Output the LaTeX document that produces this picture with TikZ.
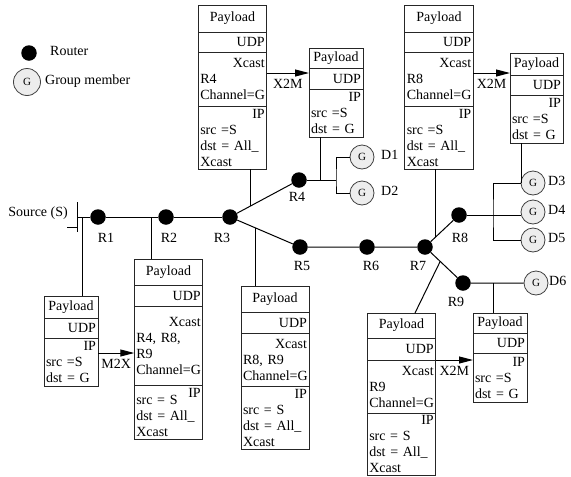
\documentclass[tikz,border=0pt]{standalone}
\usepackage{fontspec}
\setmainfont{Liberation Serif}
\usetikzlibrary{
	arrows.meta,
	positioning,
	calc
}

\begin{document}
\begin{tikzpicture}[
  x=1pt, y=-1pt,
  enlace/.style={draw=black, line width=1pt},
  flecha/.style={-{Triangle[length=14pt, width=7pt]}, draw=black, line width=1pt},
  enrutador/.style={circle, fill=black, inner sep=0pt, minimum size=15.5pt},
  miembro/.style={circle, draw=black!75, fill=black!7, line width=0.8pt, inner sep=0pt,
    minimum size=24pt, font=\fontsize{11}{12}\selectfont},
  etiqueta/.style={inner sep=0pt, font=\fontsize{14}{16}\selectfont},
  seccion/.style={draw=black!85, line width=0.9pt, outer sep=0pt, inner xsep=2pt, inner ysep=0pt,
    text width=#1, align=left, font=\fontsize{14}{16}\selectfont},
  cabecera/.style={seccion=#1, align=center}
]
\useasboundingbox (0,0) rectangle (571,477);

\node[enrutador] (lr) at (29,53) {};
\node[etiqueta, anchor=mid west] (ley1) at (50,53) {Router};
\node[miembro, minimum size=27pt] (lg) at (27,82) {G};
\node[etiqueta, anchor=mid west] (ley2) at (45,82) {Group member};

\coordinate (s) at (77,217);
\node[etiqueta, anchor=east] (fuente) at (68,213) {Source (S)};
\node[enrutador] (r1) at (98,217) {};
\node[enrutador] (r2) at (166,217) {};
\node[enrutador] (r3) at (230,217) {};
\node[enrutador] (r4) at (299,180) {};
\node[enrutador] (r5) at (300,247) {};
\node[enrutador] (r6) at (367,247) {};
\node[enrutador] (r7) at (425,247) {};
\node[enrutador] (r8) at (459,215) {};
\node[enrutador] (r9) at (463,283) {};
\node[etiqueta] (e1) at ($(r1)+(8,21)$) {R1};
\node[etiqueta] (e2) at ($(r2)+(3,21)$) {R2};
\node[etiqueta] (e3) at ($(r3)+(-8,21)$) {R3};
\node[etiqueta] (e4) at ($(r4)+(-2,17)$) {R4};
\node[etiqueta] (e5) at ($(r5)+(2,19)$) {R5};
\node[etiqueta] (e6) at ($(r6)+(4,19)$) {R6};
\node[etiqueta] (e7) at ($(r7)+(-7,19)$) {R7};
\node[etiqueta] (e8) at ($(r8)+(1,23)$) {R8};
\node[etiqueta] (e9) at ($(r9)+(-7,19)$) {R9};

\node[miembro] (d1) at (362,157) {G};
\node[miembro] (d2) at (362,193) {G};
\node[miembro] (d3) at (533,183) {G};
\node[miembro] (d4) at (533,212) {G};
\node[miembro] (d5) at (533,240) {G};
\node[miembro] (d6) at (536,283) {G};
\node[etiqueta, anchor=mid west] (ed1) at ($(d1)+(19,0)$) {D1};
\node[etiqueta, anchor=mid west] (ed2) at ($(d2)+(19,0)$) {D2};
\node[etiqueta, anchor=mid west] (ed3) at ($(d3)+(15,0)$) {D3};
\node[etiqueta, anchor=mid west] (ed4) at ($(d4)+(15,0)$) {D4};
\node[etiqueta, anchor=mid west] (ed5) at ($(d5)+(15,0)$) {D5};
\node[etiqueta, anchor=mid west] (ed6) at ($(d6)+(13,0)$) {D6};

\draw[enlace] ([yshift=15pt]s) -- ([yshift=-15pt]s);
\draw[enlace] ([yshift=-10pt]s) -- ([xshift=-10pt, yshift=-10pt]s);
\draw[enlace] (s) -- (r1) -- (r2) -- (r3);
\draw[enlace] (r3) -- (r4);
\draw[enlace] (r3) -- (r5) -- (r6) -- (r7);
\draw[enlace] (r7) -- (r8);
\draw[enlace] (r7) -- (r9) -- (d6);
\coordinate (k4) at (336,180);
\draw[enlace] (r4) -- (k4);
\draw[enlace] (d1) -| (k4) |- (d2);
\coordinate (k8) at (493,215);
\draw[enlace] (r8) -- (r8 -| d4.west);
\draw[enlace] (d3) -| (k8) |- (d5);

\node[cabecera=64.5pt, minimum height=27pt, anchor=north] (pa1) at (232.5,5) {Payload};
\node[seccion=64.5pt, minimum height=20pt, below=0pt of pa1] (pa2) {\hfill UDP};
\node[seccion=64.5pt, minimum height=54pt, below=0pt of pa2] (pa3) {\hfill Xcast\\R4\\Channel=G};
\node[seccion=64.5pt, minimum height=63pt, below=0pt of pa3] (pa4) {\hfill IP\\src =S\\dst = All\_\\Xcast};

\node[cabecera=50pt, minimum height=20pt, anchor=north] (pb1) at (336,48) {Payload};
\node[seccion=50pt, minimum height=21pt, below=0pt of pb1] (pb2) {\hfill UDP};
\node[seccion=50pt, minimum height=48pt, below=0pt of pb2] (pb3) {\hfill IP\\src =S\\dst = G};

\node[cabecera=64.5pt, minimum height=27pt, anchor=north] (pc1) at (439,5) {Payload};
\node[seccion=64.5pt, minimum height=20pt, below=0pt of pc1] (pc2) {\hfill UDP};
\node[seccion=64.5pt, minimum height=54pt, below=0pt of pc2] (pc3) {\hfill Xcast\\R8\\Channel=G};
\node[seccion=64.5pt, minimum height=63pt, below=0pt of pc3] (pc4) {\hfill IP\\src =S\\dst = All\_\\Xcast};

\node[cabecera=49pt, minimum height=22pt, anchor=north] (pd1) at (536.5,53) {Payload};
\node[seccion=49pt, minimum height=20pt, below=0pt of pd1] (pd2) {\hfill UDP};
\node[seccion=49pt, minimum height=48pt, below=0pt of pd2] (pd3) {\hfill IP\\src =S\\dst = G};

\node[cabecera=50pt, minimum height=22pt, anchor=north] (ps1) at (71,296) {Payload};
\node[seccion=50pt, minimum height=20pt, below=0pt of ps1] (ps2) {\hfill UDP};
\node[seccion=50pt, minimum height=48pt, below=0pt of ps2] (ps3) {\hfill IP\\src =S\\dst = G};

\node[cabecera=64.5pt, minimum height=26pt, anchor=north] (ph1) at (168.5,259) {Payload};
\node[seccion=64.5pt, minimum height=21pt, below=0pt of ph1] (ph2) {\hfill UDP};
\node[seccion=64.5pt, minimum height=79pt, below=0pt of ph2] (ph3) {\hfill Xcast\\R4, R8,\\R9\\Channel=G};
\node[seccion=64.5pt, minimum height=54pt, below=0pt of ph3] (ph4) {\hfill IP\\[-9pt]src = S\\dst = All\_\\Xcast};

\node[cabecera=64pt, minimum height=26pt, anchor=north] (pe1) at (275,286) {Payload};
\node[seccion=64pt, minimum height=21pt, below=0pt of pe1] (pe2) {\hfill UDP};
\node[seccion=64pt, minimum height=53pt, below=0pt of pe2] (pe3) {\hfill Xcast\\R8, R9\\Channel=G};
\node[seccion=64pt, minimum height=63pt, below=0pt of pe3] (pe4) {\hfill IP\\src = S\\dst = All\_\\Xcast};

\node[cabecera=64.5pt, minimum height=25pt, anchor=north] (pf1) at (401.5,313) {Payload};
\node[seccion=64.5pt, minimum height=22pt, below=0pt of pf1] (pf2) {\hfill UDP};
\node[seccion=64.5pt, minimum height=53pt, below=0pt of pf2] (pf3) {\hfill Xcast\\R9\\Channel=G};
\node[seccion=64.5pt, minimum height=62pt, below=0pt of pf3] (pf4) {\hfill IP\\src = S\\dst = All\_\\Xcast};

\node[cabecera=50pt, minimum height=20pt, anchor=north] (pg1) at (500,313) {Payload};
\node[seccion=50pt, minimum height=20pt, below=0pt of pg1] (pg2) {\hfill UDP};
\node[seccion=50pt, minimum height=49pt, below=0pt of pg2] (pg3) {\hfill IP\\src =S\\dst = G};

\coordinate (ts) at ($(s)+(5,0)$);
\coordinate (th) at ($(r1)!0.78!(r2)$);
\coordinate (ta) at ($(r3)!0.3!(r4)$);
\coordinate (tb) at ($(r4)!0.57!(k4)$);
\coordinate (te) at ($(r3)!0.37!(r5)$);
\coordinate (tc) at ($(r7)!0.32!(r8)$);
\coordinate (td) at ($(d3 -| k8)!0.7!(d3)$);
\coordinate (tf) at ($(r7)!0.4!(r9)$);
\coordinate (tg) at ($(r9)!0.42!(d6)$);
\draw[enlace] (ts) -- (ts |- ps1.north);
\draw[enlace] (th) -- (th |- ph1.north);
\draw[enlace] (ta) -- (ta |- pa4.south);
\draw[enlace] (tb) -- (tb |- pb3.south);
\draw[enlace] (te) -- (te |- pe1.north);
\draw[enlace] (tc) -- (tc |- pc4.south);
\draw[enlace] (td) -- (td |- pd3.south);
\draw[enlace] (tf) -- ([xshift=13.5pt]pf1.north);
\draw[enlace] (tg) -- (tg |- pg1.north);

\coordinate (xa) at ([yshift=6pt]pa3.east);
\coordinate (xc) at ([yshift=6pt]pc3.east);
\coordinate (xs) at ([yshift=9pt]ps3.east);
\coordinate (xf) at (pf3.north east);
\draw[flecha] (xa) -- (xa -| pb1.west) node[etiqueta, midway, below=6pt] {X2M};
\draw[flecha] (xc) -- (xc -| pd1.west) node[etiqueta, midway, below=6pt] {X2M};
\draw[flecha] (xs) -- (xs -| ph1.west) node[etiqueta, midway, below=6pt] {M2X};
\draw[flecha] (xf) -- (xf -| pg1.west) node[etiqueta, midway, below=6pt] {X2M};
\end{tikzpicture}
\end{document}
